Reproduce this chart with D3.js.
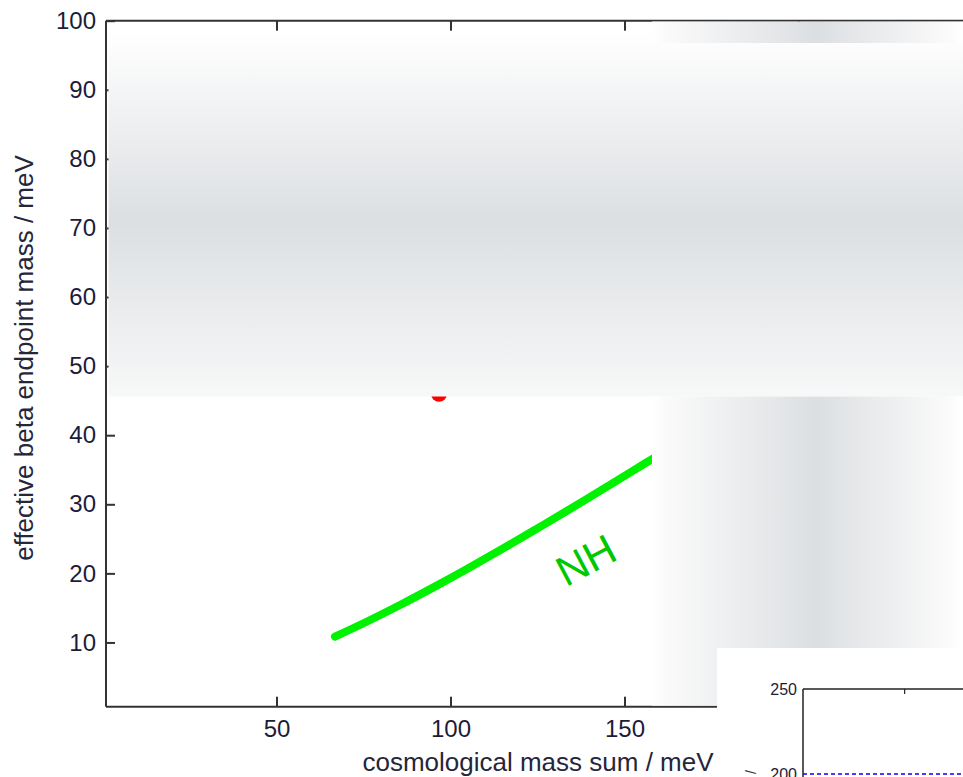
<!DOCTYPE html>
<html>
<head>
<meta charset="utf-8">
<script src="https://cdn.jsdelivr.net/npm/d3@7/dist/d3.min.js"></script>
<style>
  html, body { margin: 0; padding: 0; background: #ffffff; }
  svg { display: block; }
  text { font-family: Arial, "Liberation Sans", Helvetica, sans-serif; }
</style>
</head>
<body>
<svg id="chart" width="963" height="777"></svg>
<script>
// ---------------- data ----------------
const nhSum   = [66.8, 75.9, 85.5, 95.1, 104.6, 114.2, 123.8, 133.4, 143.2, 152.5, 157.3, 162.0];
const nhMbeta = [10.85, 13.0, 15.42, 17.97, 20.6, 23.35, 26.16, 29.03, 32.01, 34.87, 36.36, 37.8];
const pointSum = [96.7];
const pointMbeta = [46.0];
const xTicks = [50, 100, 150, 200];
const yTicks = [10, 20, 30, 40, 50, 60, 70, 80, 90, 100];
const curveLabel = "NH";
const xTitle = "cosmological mass sum / meV";
const yTitle = "effective beta endpoint mass / meV";
const insetYTicks = [200, 250];
const insetXTicks = [50];
const insetLineValue = [200];

// ---------------- layout ----------------
const svg = d3.select("#chart");
const W = 963, H = 777;
const x = d3.scaleLinear().domain([1, 250]).range([106, 972.5]);
const y = d3.scaleLinear().domain([0.7, 100]).range([706.7, 20.7]);
const tickColor = "#1c1c3a";
const titleColor = "#26263a";

svg.append("rect").attr("width", W).attr("height", H).attr("fill", "#ffffff");

// gradients
const defs = svg.append("defs");
const gv = defs.append("linearGradient").attr("id", "gv").attr("x1", 0).attr("y1", 0).attr("x2", 0).attr("y2", 1);
gv.append("stop").attr("offset", "0").attr("stop-color", "#ffffff");
gv.append("stop").attr("offset", "0.52").attr("stop-color", "#dcdfe2");
gv.append("stop").attr("offset", "1").attr("stop-color", "#f7f8f8");
const gh = defs.append("linearGradient").attr("id", "gh").attr("x1", 0).attr("y1", 0).attr("x2", 1).attr("y2", 0);
gh.append("stop").attr("offset", "0").attr("stop-color", "#ffffff");
gh.append("stop").attr("offset", "0.05").attr("stop-color", "#fafafa");
gh.append("stop").attr("offset", "0.53").attr("stop-color", "#dcdfe2");
gh.append("stop").attr("offset", "0.95").attr("stop-color", "#fafafa");
gh.append("stop").attr("offset", "1").attr("stop-color", "#ffffff");

// ---------------- data marks ----------------
const nhData = nhSum.map((s, i) => [s, nhMbeta[i]]);
const line = d3.line().x(d => x(d[0])).y(d => y(d[1])).curve(d3.curveCatmullRom);
svg.append("path").datum(nhData)
  .attr("d", line)
  .attr("fill", "none")
  .attr("stroke", "#00f200")
  .attr("stroke-width", 8)
  .attr("stroke-linecap", "round");

svg.selectAll("circle.pt").data(pointSum).enter().append("circle")
  .attr("class", "pt")
  .attr("cx", d => x(d))
  .attr("cy", (d, i) => y(pointMbeta[i]))
  .attr("r", 8)
  .attr("fill", "#ff0000");

// NH label
const lx = x(133.2), ly = y(18.0);
svg.append("text")
  .attr("x", lx).attr("y", ly)
  .attr("transform", `rotate(-28 ${lx} ${ly})`)
  .attr("font-size", 42)
  .attr("fill", "#00c800")
  .text(curveLabel);

// ---------------- axes ----------------
const ax = svg.append("g");
ax.append("line").attr("x1", x(1)).attr("x2", W).attr("y1", y(100)).attr("y2", y(100))
  .attr("stroke", "#333").attr("stroke-width", 2);
ax.append("line").attr("x1", x(1)).attr("x2", W).attr("y1", y(0.7)).attr("y2", y(0.7))
  .attr("stroke", "#333").attr("stroke-width", 2);
ax.append("line").attr("x1", x(1)).attr("x2", x(1)).attr("y1", y(100)).attr("y2", y(0.7))
  .attr("stroke", "#333").attr("stroke-width", 2);

// bottom axis (ticks inward)
const xb = d3.axisBottom(x).tickValues(xTicks).tickSizeInner(-10).tickSizeOuter(0).tickPadding(13);
const gxb = svg.append("g").attr("transform", `translate(0,${y(0.7)})`).call(xb);
gxb.select(".domain").remove();
gxb.selectAll(".tick line").attr("stroke", "#333").attr("stroke-width", 2);
gxb.selectAll(".tick text").attr("font-size", 24).attr("fill", tickColor)
  .attr("font-family", "Arial, 'Liberation Sans', sans-serif");

// top axis mirror ticks
const xt = d3.axisTop(x).tickValues(xTicks).tickSizeInner(-10).tickSizeOuter(0).tickFormat("");
const gxt = svg.append("g").attr("transform", `translate(0,${y(100)})`).call(xt);
gxt.select(".domain").remove();
gxt.selectAll(".tick line").attr("stroke", "#333").attr("stroke-width", 2);

// left axis
const yl = d3.axisLeft(y).tickValues(yTicks).tickSizeInner(-9).tickSizeOuter(0).tickPadding(10);
const gyl = svg.append("g").attr("transform", `translate(${x(1)},0)`).call(yl);
gyl.select(".domain").remove();
gyl.selectAll(".tick line").attr("stroke", "#333").attr("stroke-width", 2);
gyl.selectAll(".tick text").attr("font-size", 24).attr("fill", tickColor)
  .attr("font-family", "Arial, 'Liberation Sans', sans-serif");

// titles
svg.append("text")
  .attr("x", 538).attr("y", 771)
  .attr("text-anchor", "middle")
  .attr("font-size", 26)
  .attr("fill", titleColor)
  .text(xTitle);
svg.append("text")
  .attr("transform", `translate(33,358) rotate(-90)`)
  .attr("text-anchor", "middle")
  .attr("font-size", 26)
  .attr("fill", titleColor)
  .text(yTitle);

// ---------------- overlays ----------------
svg.append("rect").attr("x", 108.5).attr("y", 31).attr("width", W - 108.5).attr("height", 396.5 - 31)
  .attr("fill", "url(#gv)");
svg.append("rect").attr("x", 652).attr("y", 21.5).attr("width", W - 652).attr("height", 43 - 21.5)
  .attr("fill", "url(#gh)");
svg.append("rect").attr("x", 652).attr("y", 396.5).attr("width", W - 652).attr("height", 705.6 - 396.5)
  .attr("fill", "url(#gh)");

// ---------------- inset ----------------
svg.append("rect").attr("x", 717).attr("y", 648).attr("width", W - 717).attr("height", H - 648)
  .attr("fill", "#ffffff");
const ix = d3.scaleLinear().domain([1, 250]).range([803, 1317]);
const iy = d3.scaleLinear().domain([200, 250]).range([774, 689]);
svg.append("line").attr("x1", ix(1)).attr("x2", W).attr("y1", iy(250)).attr("y2", iy(250))
  .attr("stroke", "#222").attr("stroke-width", 1.5);
svg.append("line").attr("x1", ix(1)).attr("x2", ix(1)).attr("y1", iy(250)).attr("y2", H)
  .attr("stroke", "#222").attr("stroke-width", 1.5);
const iyl = d3.axisLeft(iy).tickValues(insetYTicks).tickSize(0).tickPadding(6);
const giy = svg.append("g").attr("transform", `translate(${ix(1)},0)`).call(iyl);
giy.select(".domain").remove();
giy.selectAll(".tick text").attr("font-size", 16).attr("fill", tickColor)
  .attr("font-family", "Arial, 'Liberation Sans', sans-serif");
const ixt = d3.axisTop(ix).tickValues(insetXTicks).tickSizeInner(-5).tickSizeOuter(0).tickFormat("");
const gixt = svg.append("g").attr("transform", `translate(0,${iy(250)})`).call(ixt);
gixt.select(".domain").remove();
gixt.selectAll(".tick line").attr("stroke", "#222").attr("stroke-width", 1.2);
svg.selectAll("line.ref").data(insetLineValue).enter().append("line")
  .attr("class", "ref")
  .attr("x1", ix(1)).attr("x2", W)
  .attr("y1", d => iy(d)).attr("y2", d => iy(d))
  .attr("stroke", "#0000ff").attr("stroke-width", 1.5)
  .attr("stroke-dasharray", "4,3");
svg.append("text")
  .attr("transform", "translate(756,774) rotate(-90)")
  .attr("font-size", 14).attr("fill", "#333")
  .text("/");
</script>
</body>
</html>
